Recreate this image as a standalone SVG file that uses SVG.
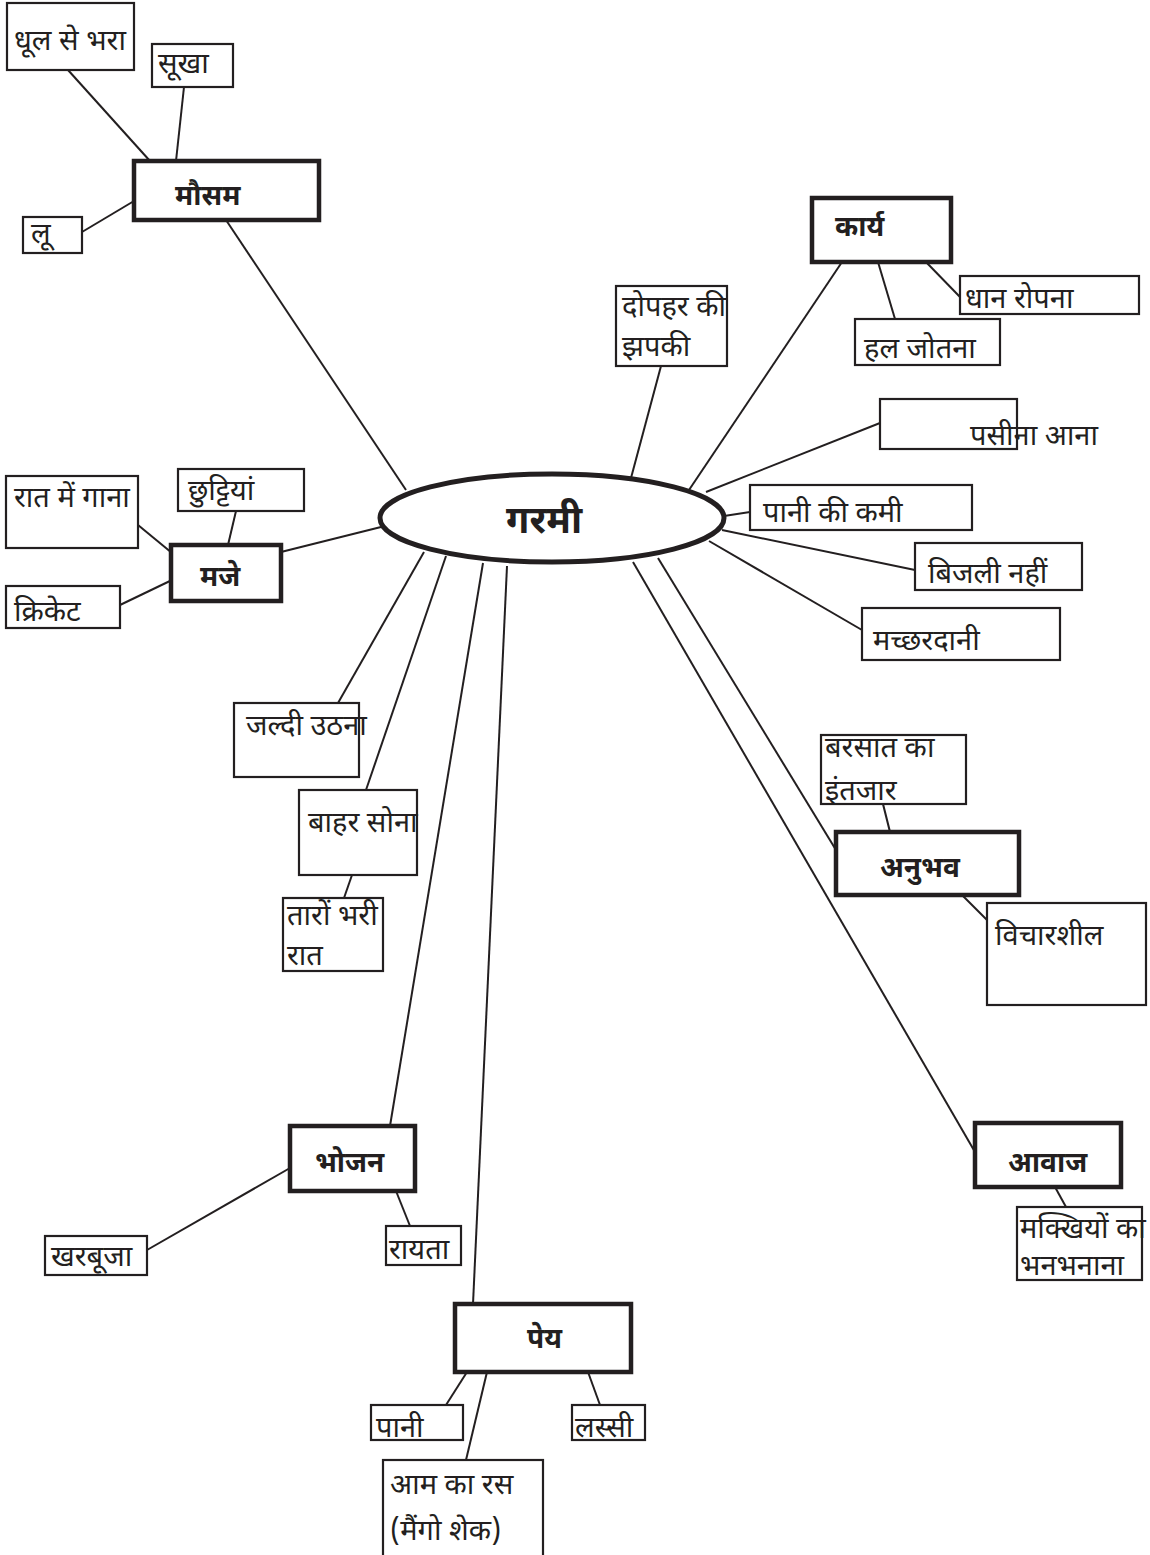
<svg xmlns="http://www.w3.org/2000/svg" width="1150" height="1555" viewBox="0 0 1150 1555">
<style>
text{font-family:"Noto Sans Devanagari","Lohit Devanagari","Noto Sans","DejaVu Sans",sans-serif;font-size:29px;fill:#231f20}
.b{font-weight:bold;font-size:28px}
.big{font-weight:bold;font-size:38px}
.n{fill:#fff;stroke:#231f20;stroke-width:2.2}
.t{fill:#fff;stroke:#231f20;stroke-width:4.5}
.e{fill:#fff;stroke:#231f20;stroke-width:5}
#connectors line{stroke:#231f20;stroke-width:2}
</style>
<rect width="1150" height="1555" fill="#fff"/>
<g id="connectors">
<line x1="68" y1="70" x2="150" y2="161"/>
<line x1="184" y1="87" x2="176" y2="161"/>
<line x1="82" y1="232" x2="134" y2="201"/>
<line x1="226" y1="220" x2="406" y2="490"/>
<line x1="661" y1="366" x2="631" y2="478"/>
<line x1="842" y1="262" x2="689" y2="490"/>
<line x1="878" y1="262" x2="895" y2="319"/>
<line x1="926" y1="262" x2="960" y2="297"/>
<line x1="880" y1="423" x2="706" y2="492"/>
<line x1="750" y1="512" x2="724" y2="516"/>
<line x1="915" y1="570" x2="722" y2="530"/>
<line x1="862" y1="630" x2="709" y2="541"/>
<line x1="633" y1="562" x2="975" y2="1152"/>
<line x1="658" y1="558" x2="836" y2="850"/>
<line x1="883" y1="804" x2="890" y2="832"/>
<line x1="962" y1="895" x2="987" y2="920"/>
<line x1="281" y1="552" x2="381" y2="527"/>
<line x1="236" y1="511" x2="228" y2="545"/>
<line x1="138" y1="525" x2="172" y2="553"/>
<line x1="120" y1="605" x2="172" y2="580"/>
<line x1="338" y1="703" x2="424" y2="552"/>
<line x1="366" y1="790" x2="446" y2="556"/>
<line x1="352" y1="875" x2="344" y2="898"/>
<line x1="390" y1="1126" x2="483" y2="563"/>
<line x1="473" y1="1304" x2="507" y2="566"/>
<line x1="290" y1="1168" x2="147" y2="1250"/>
<line x1="396" y1="1191" x2="410" y2="1226"/>
<line x1="1055" y1="1187" x2="1066" y2="1207"/>
<line x1="467" y1="1372" x2="446" y2="1405"/>
<line x1="588" y1="1372" x2="600" y2="1405"/>
<line x1="487" y1="1372" x2="466" y2="1460"/>
</g>
<g id="garmi"><ellipse class="e" cx="552" cy="518" rx="172" ry="44"/><text class="big" x="506" y="533">गरमी</text></g>
<g id="dhool"><rect class="n" x="7" y="3" width="127" height="67"/><text x="14" y="50">धूल से भरा</text></g>
<g id="sookha"><rect class="n" x="152" y="44" width="81" height="43"/><text x="158" y="73">सूखा</text></g>
<g id="mausam"><rect class="t" x="134" y="161" width="185" height="59"/><text class="b" x="175" y="205">मौसम</text></g>
<g id="loo"><rect class="n" x="23" y="217" width="59" height="36"/><text x="31" y="243">लू</text></g>
<g id="karya"><rect class="t" x="812" y="198" width="139" height="64"/><text class="b" x="835" y="236">कार्य</text></g>
<g id="dhaan"><rect class="n" x="960" y="276" width="179" height="38"/><text x="965" y="308">धान रोपना</text></g>
<g id="hal"><rect class="n" x="855" y="319" width="145" height="46"/><text x="864" y="358">हल जोतना</text></g>
<g id="dopahar"><rect class="n" x="616" y="286" width="111" height="80"/><text x="622" y="316">दोपहर की</text><text x="622" y="356">झपकी</text></g>
<g id="paseena"><rect class="n" x="880" y="399" width="137" height="50"/><text x="970" y="445">पसीना आना</text></g>
<g id="panikami"><rect class="n" x="750" y="485" width="222" height="45"/><text x="763" y="522">पानी की कमी</text></g>
<g id="bijli"><rect class="n" x="915" y="543" width="167" height="47"/><text x="928" y="583">बिजली नहीं</text></g>
<g id="macchar"><rect class="n" x="862" y="608" width="198" height="52"/><text x="873" y="650">मच्छरदानी</text></g>
<g id="raat"><rect class="n" x="6" y="476" width="132" height="72"/><text x="14" y="507">रात में गाना</text></g>
<g id="chhutti"><rect class="n" x="178" y="469" width="126" height="42"/><text x="188" y="500">छुट्टियां</text></g>
<g id="maje"><rect class="t" x="171" y="545" width="110" height="56"/><text class="b" x="200" y="586">मजे</text></g>
<g id="cricket"><rect class="n" x="6" y="586" width="114" height="42"/><text x="14" y="621">क्रिकेट</text></g>
<g id="jaldi"><rect class="n" x="234" y="703" width="125" height="74"/><text x="246" y="735">जल्दी उठना</text></g>
<g id="bahar"><rect class="n" x="299" y="790" width="118" height="85"/><text x="308" y="832">बाहर सोना</text></g>
<g id="taare"><rect class="n" x="283" y="898" width="100" height="73"/><text x="287" y="925">तारों भरी</text><text x="287" y="965">रात</text></g>
<g id="barsaat"><rect class="n" x="821" y="735" width="145" height="69"/><text x="825" y="757">बरसात का</text><text x="825" y="800">इंतजार</text></g>
<g id="anubhav"><rect class="t" x="836" y="832" width="183" height="63"/><text class="b" x="880" y="877">अनुभव</text></g>
<g id="vichaar"><rect class="n" x="987" y="903" width="159" height="102"/><text x="995" y="945">विचारशील</text></g>
<g id="bhojan"><rect class="t" x="290" y="1126" width="125" height="65"/><text class="b" x="315" y="1172">भोजन</text></g>
<g id="kharbooja"><rect class="n" x="45" y="1236" width="102" height="39"/><text x="51" y="1266">खरबूजा</text></g>
<g id="raayta"><rect class="n" x="386" y="1226" width="75" height="39"/><text x="389" y="1259">रायता</text></g>
<g id="aawaaz"><rect class="t" x="975" y="1123" width="146" height="64"/><text class="b" x="1008" y="1172">आवाज</text></g>
<g id="makkhi"><rect class="n" x="1017" y="1207" width="125" height="73"/><text x="1020" y="1238">मक्खियों का</text><text x="1020" y="1275">भनभनाना</text></g>
<g id="pey"><rect class="t" x="455" y="1304" width="176" height="68"/><text class="b" x="527" y="1348">पेय</text></g>
<g id="paani"><rect class="n" x="371" y="1405" width="92" height="35"/><text x="376" y="1437">पानी</text></g>
<g id="lassi"><rect class="n" x="572" y="1405" width="73" height="35"/><text x="575" y="1437">लस्सी</text></g>
<g id="aam"><rect class="n" x="383" y="1460" width="160" height="100"/><text x="390" y="1494">आम का रस</text><text x="390" y="1540">(मैंगो शेक)</text></g>
</svg>
